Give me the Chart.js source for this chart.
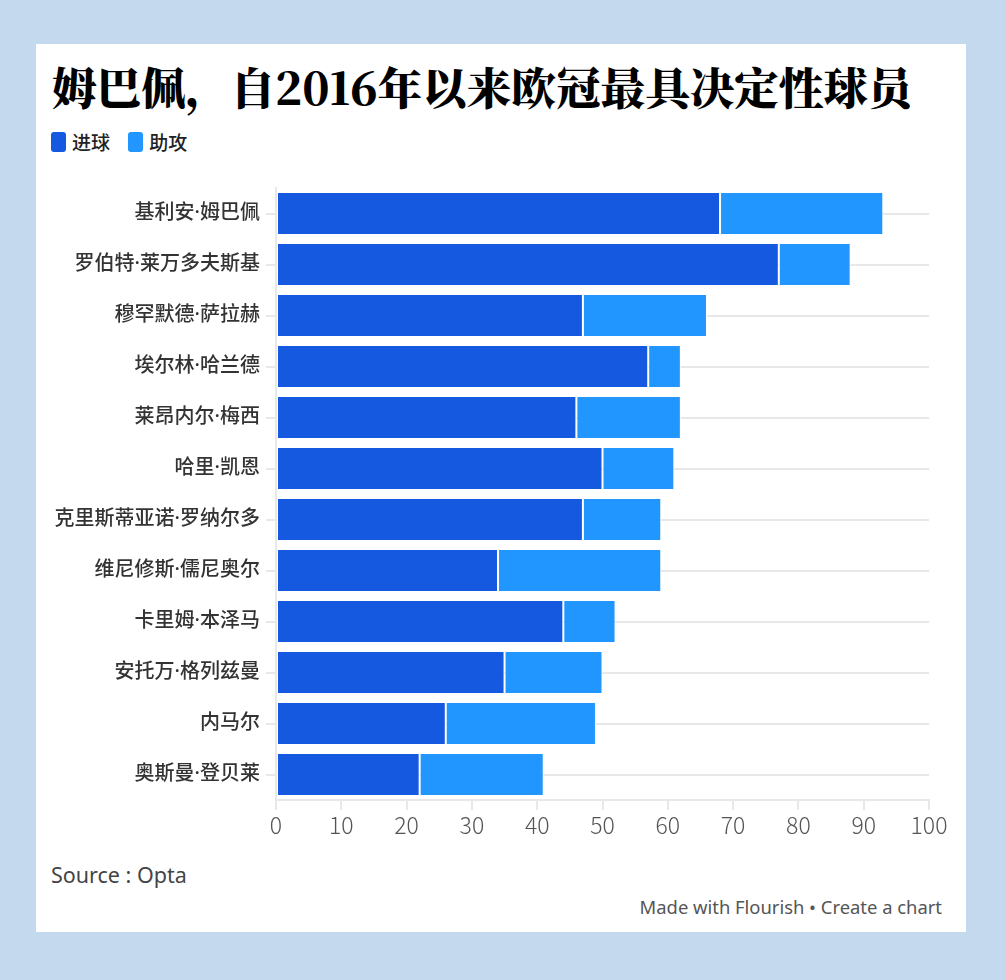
<!DOCTYPE html>
<html>
<head>
<meta charset="utf-8">
<script src="https://cdn.jsdelivr.net/npm/chart.js@4"></script>
<style>
body{
    margin:0;
    width:1006px;
    height:980px;
    background:#c4d9ee;
    font-family:"Noto Sans CJK SC","Noto Sans",sans-serif;
    position:relative;
    overflow:hidden;
}
#card{
    position:absolute;
    left:36px;
    top:44px;
    width:930px;
    height:888px;
    background:#fff;
}
#title{
    position:absolute;
    left:16px;
    top:17px;
    font-family:"Noto Serif CJK SC","Noto Sans CJK SC",serif;
    font-size:44.6px;
    line-height:50px;
    font-weight:900;
    color:#000;
    white-space:nowrap;
}
#legend{
    position:absolute;
    left:15px;
    top:84px;
    font-size:19px;
    color:#222;
    font-weight:500;
}
.item{
    display:inline-flex;
    align-items:center;
    margin-right:14px;
}
.sw{
    display:inline-block;
    width:15px;
    height:20px;
    border-radius:3px;
    margin-right:6px;
}
#chartBox{
    position:absolute;
    left:0;
    top:126px;
    width:930px;
    height:670px;
}
#source{
    position:absolute;
    left:15px;
    top:816px;
    font-family:"Noto Sans",sans-serif;
    font-size:21.5px;
    color:#444;
}
#made{
    position:absolute;
    right:24px;
    top:850px;
    font-family:"Noto Sans",sans-serif;
    font-size:18.4px;
    color:#555;
}
</style>
</head>
<body>
<div id="card">
    <div id="title">姆巴佩，自2016年以来欧冠最具决定性球员</div>
    <div id="legend">
        <span class="item"><span class="sw" style="background:#1559e0"></span>进球</span>
        <span class="item"><span class="sw" style="background:#2196ff"></span>助攻</span>
    </div>
    <div id="chartBox"><canvas id="barChart"></canvas></div>
    <div id="source">Source : Opta</div>
    <div id="made">Made with Flourish • Create a chart</div>
</div>
<script>

const players = [
    "基利安·姆巴佩",
    "罗伯特·莱万多夫斯基",
    "穆罕默德·萨拉赫",
    "埃尔林·哈兰德",
    "莱昂内尔·梅西",
    "哈里·凯恩",
    "克里斯蒂亚诺·罗纳尔多",
    "维尼修斯·儒尼奥尔",
    "卡里姆·本泽马",
    "安托万·格列兹曼",
    "内马尔",
    "奥斯曼·登贝莱"
];

const goals = [68, 77, 47, 57, 46, 50, 47, 34, 44, 35, 26, 22];

const assists = [25, 11, 19, 5, 16, 11, 12, 25, 8, 15, 23, 19];

const xTicks = [0, 10, 20, 30, 40, 50, 60, 70, 80, 90, 100];

const gridColor = "#e8e8e8";

new Chart(
    document.getElementById("barChart"),
    {
        type:"bar",
        data:{
            labels:players,
            datasets:[
                {
                    label:"进球",
                    data:goals,
                    backgroundColor:"#1559e0",
                    borderColor:"#ffffff",
                    borderWidth:1,
                    borderSkipped:false
                },
                {
                    label:"助攻",
                    data:assists,
                    backgroundColor:"#2196ff",
                    borderColor:"#ffffff",
                    borderWidth:1,
                    borderSkipped:false
                }
            ]
        },
        options:{
            indexAxis:"y",
            responsive:true,
            maintainAspectRatio:false,
            animation:false,
            barPercentage:0.84,
            categoryPercentage:1,
            layout:{
                padding:{top:8, right:37, bottom:0, left:0}
            },
            plugins:{
                legend:{display:false},
                tooltip:{enabled:false}
            },
            scales:{
                x:{
                    stacked:true,
                    min:0,
                    max:100,
                    afterBuildTicks:axis=>{
                        axis.ticks = xTicks.map(v=>({value:v}));
                    },
                    grid:{
                        drawOnChartArea:false,
                        drawTicks:true,
                        tickLength:10,
                        color:gridColor,
                        lineWidth:2
                    },
                    border:{
                        display:true,
                        color:gridColor,
                        width:2
                    },
                    ticks:{
                        padding:1,
                        color:"#555",
                        font:{
                            family:"'Noto Sans CJK SC', sans-serif",
                            size:23,
                            weight:300
                        }
                    },
                    afterFit:axis=>{
                        axis.height = 40;
                    }
                },
                y:{
                    stacked:true,
                    grid:{
                        offset:false,
                        drawTicks:true,
                        tickLength:10,
                        color:gridColor,
                        lineWidth:2
                    },
                    border:{
                        display:true,
                        color:gridColor,
                        width:2
                    },
                    ticks:{
                        padding:6,
                        color:"#333",
                        font:{
                            family:"'Noto Sans', 'Noto Sans CJK SC', sans-serif",
                            size:20,
                            weight:500
                        }
                    },
                    afterFit:axis=>{
                        axis.width = 240;
                    }
                }
            }
        }
    }
);

</script>
</body>
</html>
